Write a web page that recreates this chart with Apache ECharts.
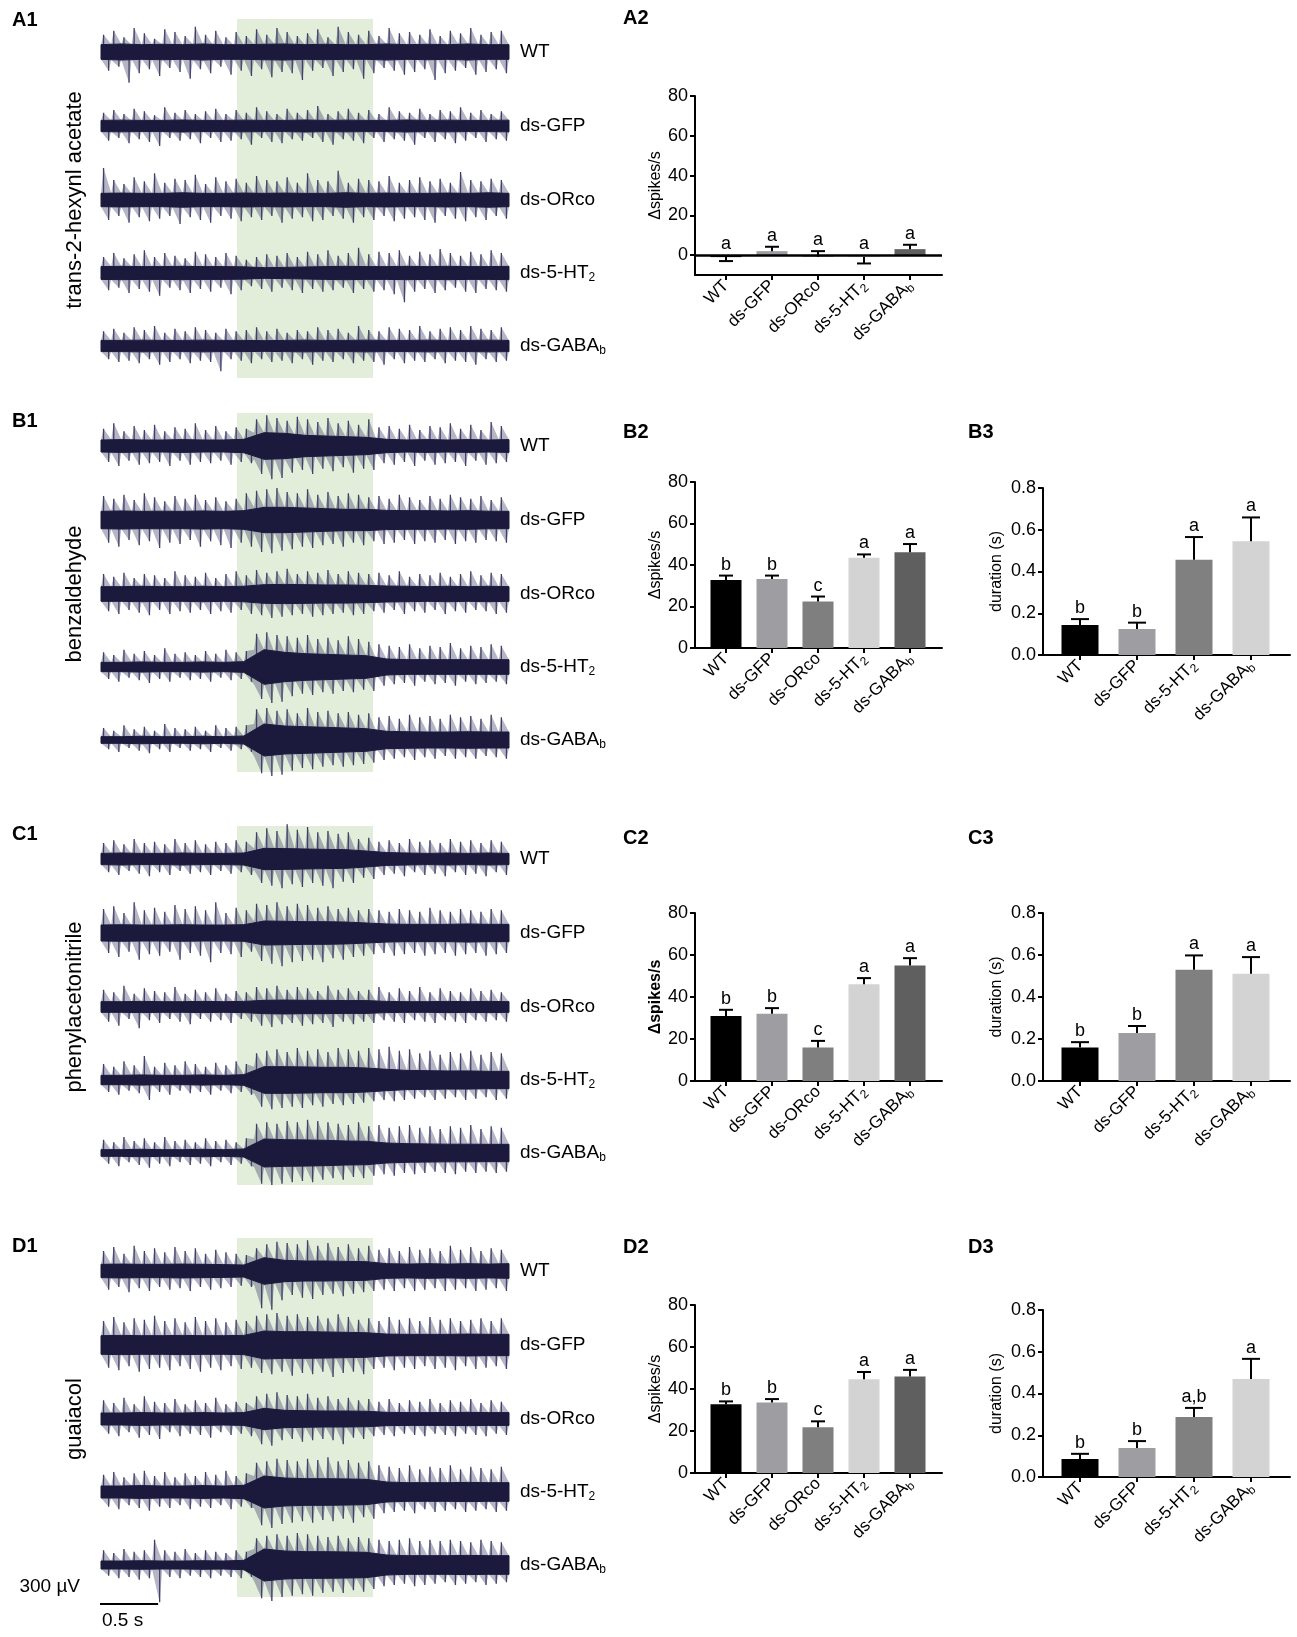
<!DOCTYPE html>
<html>
<head>
<meta charset="utf-8">
<title>Electroantennogram traces and responses</title>
<script src="https://cdn.jsdelivr.net/npm/echarts@6.0.0/dist/echarts.min.js"></script>
<style>
  html, body { margin: 0; padding: 0; background: #fff; }
  #main { width: 1297px; height: 1637px; }
</style>
</head>
<body>
<div id="main"></div>
<script>
// ---- trace data: per 0.075 s bin, peak upward / downward excursion (uV), core band half-width every 0.15 s (uV)
var A_WT_up = [130,160,110,180,140,100,170,150,120,190,130,160,110,150,120,170,130,180,150,120,
  140,170,110,190,150,130,160,120,180,140,150,130,170,120,160,140,180,130,150,160];
var A_WT_dn = [140,110,230,160,130,180,120,150,200,130,160,110,170,140,180,130,190,150,160,210,
  140,120,180,150,130,200,160,120,140,170,150,130,210,160,140,120,170,150,130,160];
var A_WT_core = [55,60,55,58,55,60,55,55,58,60,55,58,55,55,60,55,58,55,60,55,55];
var A_GFP_up = [100,120,90,130,110,80,140,100,120,90,110,130,90,120,100,140,110,90,130,100,
  120,150,90,110,130,100,120,90,140,110,100,130,90,120,110,140,100,120,90,110];
var A_GFP_dn = [110,90,130,100,120,150,90,110,100,130,90,120,110,100,140,90,120,130,100,110,
  90,120,140,100,110,130,90,120,100,110,140,90,120,100,130,110,90,120,100,110];
var A_GFP_core = [42,44,42,42,45,42,42,44,42,42,45,42,44,42,42,45,42,44,42,42,44];
var A_ORco_up = [240,150,120,170,140,200,130,160,150,190,120,170,140,160,130,180,150,140,170,130,
  200,150,140,220,130,160,150,140,180,130,150,170,140,160,130,210,150,140,160,150];
var A_ORco_dn = [150,120,170,130,160,140,120,180,130,150,170,120,140,160,130,150,120,170,140,130,
  160,150,120,140,170,130,150,120,160,140,130,150,170,120,140,160,130,150,120,140];
var A_ORco_core = [50,52,50,50,54,50,50,52,50,52,50,50,54,50,52,50,50,52,50,54,50];
var A_5HT_up = [120,150,110,140,170,120,150,130,110,160,140,120,150,130,100,120,140,130,150,120,
  160,140,170,130,150,190,140,160,150,170,130,160,140,180,150,130,160,140,170,150];
var A_5HT_dn = [130,110,150,120,140,170,110,130,150,120,140,110,160,130,100,120,140,110,130,150,
  120,140,130,110,150,120,140,130,160,220,140,120,150,130,110,140,150,120,130,140];
var A_5HT_core = [48,50,48,48,50,48,48,46,40,42,45,48,50,48,48,50,48,50,48,48,50];
var A_GABA_up = [110,130,100,140,120,150,100,130,110,140,120,100,130,110,120,140,110,130,100,120,
  110,140,120,130,100,150,120,110,140,130,120,150,110,130,140,120,150,130,120,140];
var A_GABA_dn = [100,120,110,130,100,140,120,100,130,110,120,190,100,110,130,100,120,110,130,100,
  140,110,120,100,130,110,120,140,100,130,110,120,100,130,110,120,140,100,120,110];
var A_GABA_core = [42,42,44,42,42,44,42,42,40,42,44,42,42,44,42,42,44,42,42,44,42];

var B_WT_up = [130,170,110,150,120,160,110,140,130,170,120,150,110,140,130,200,230,210,190,220,
  200,180,210,170,190,160,200,140,150,130,160,120,150,140,170,130,160,120,180,150];
var B_WT_dn = [120,150,110,140,130,120,150,110,140,120,130,110,140,120,130,210,250,240,200,180,
  210,170,190,160,200,170,180,130,140,120,150,110,140,130,120,150,110,140,130,120];
var B_WT_core = [45,48,45,45,48,45,45,50,100,95,80,75,70,65,50,45,48,45,48,45,48];
var B_GFP_up = [180,160,190,150,200,170,140,180,160,190,150,170,140,160,200,220,230,240,210,200,
  230,190,210,180,200,190,170,180,160,190,170,150,180,160,190,170,160,180,150,170];
var B_GFP_dn = [170,200,150,190,160,210,170,180,150,200,160,190,210,170,200,240,250,230,220,200,
  210,190,180,200,170,190,160,180,170,150,180,160,170,150,180,160,170,150,160,170];
var B_GFP_core = [65,68,65,66,65,68,65,70,95,95,90,85,80,80,72,70,70,68,70,66,65];
var B_ORco_up = [150,130,160,120,150,140,120,170,140,130,160,120,150,170,140,180,160,170,190,150,
  170,160,180,150,170,160,150,160,140,170,130,150,140,160,130,150,170,140,160,150];
var B_ORco_dn = [130,150,120,140,160,120,150,130,140,120,150,130,140,120,150,160,180,170,160,150,
  170,160,150,140,160,150,130,140,120,150,130,140,120,150,130,140,120,130,150,140];
var B_ORco_core = [55,55,58,55,55,58,55,58,70,72,70,68,68,65,60,58,55,58,55,58,55];
var B_5HT_up = [110,90,130,100,120,90,140,100,110,90,120,100,130,110,120,250,260,240,230,220,
  240,210,220,200,230,210,190,170,160,150,170,140,160,150,180,140,160,150,170,160];
var B_5HT_dn = [90,110,80,100,120,90,110,80,100,90,110,80,100,90,110,240,270,260,220,200,
  210,190,200,180,190,170,180,140,130,120,140,110,130,120,140,110,130,120,110,130];
var B_5HT_core = [35,35,38,35,35,38,35,40,130,110,100,95,90,85,60,55,55,55,55,55,55];
var B_GABA_up = [90,70,110,80,100,70,120,90,80,100,70,110,90,100,110,230,240,220,230,200,
  240,210,220,200,210,190,200,170,180,160,190,170,180,160,190,170,180,160,190,170];
var B_GABA_dn = [70,90,60,80,100,70,90,60,80,70,90,60,80,70,90,250,270,260,230,210,
  220,200,190,200,190,180,170,150,140,130,150,130,140,120,140,130,140,120,130,140];
var B_GABA_core = [25,25,28,25,25,28,25,30,120,105,100,95,90,85,65,62,60,60,62,60,60];

var C_WT_up = [120,140,110,150,120,130,110,150,120,140,110,130,120,140,130,200,230,210,260,220,
  240,200,210,190,200,150,160,130,140,120,150,130,140,120,150,130,140,120,140,130];
var C_WT_dn = [100,120,90,110,130,100,120,90,110,100,120,90,110,100,120,180,200,220,190,210,
  180,200,220,170,180,140,150,120,110,130,100,120,110,130,100,120,110,130,100,120];
var C_WT_core = [42,45,42,42,45,42,42,45,80,78,75,72,70,60,48,45,42,45,42,45,42];
var C_GFP_up = [180,200,150,230,170,190,160,210,180,200,170,230,150,190,170,220,210,230,200,220,
  210,190,200,180,190,170,180,170,160,180,170,160,190,170,160,180,170,160,180,170];
var C_GFP_dn = [150,180,140,200,160,170,140,200,150,170,220,150,160,180,140,210,230,250,220,210,
  200,220,190,200,180,170,160,150,170,160,150,170,160,150,170,160,150,170,160,150];
var C_GFP_core = [60,62,60,60,62,60,60,62,90,88,85,85,82,75,68,65,65,65,68,65,65];
var C_ORco_up = [130,110,160,100,140,120,110,150,100,130,110,140,100,120,110,150,140,160,130,150,
  140,120,160,130,140,120,130,150,110,140,120,150,110,140,120,110,140,120,130,110];
var C_ORco_dn = [110,140,90,160,100,120,90,110,130,90,110,100,120,90,110,140,150,130,120,140,
  130,120,150,110,130,110,120,100,110,120,100,110,120,100,110,120,100,110,100,110];
var C_ORco_core = [40,40,42,40,40,42,40,42,50,52,50,50,48,48,42,40,40,42,40,42,40];
var C_5HT_up = [120,100,140,110,180,100,130,110,140,120,100,130,110,140,120,200,220,230,210,240,
  220,230,210,240,230,220,240,230,250,220,230,200,220,190,210,200,220,190,210,200];
var C_5HT_dn = [90,110,80,100,150,90,110,80,100,90,110,80,100,90,110,200,220,210,200,210,
  190,200,180,190,180,170,160,150,160,150,140,130,150,140,130,150,140,130,150,140];
var C_5HT_core = [35,35,38,35,35,38,35,40,100,100,98,95,95,90,80,72,70,68,68,65,65];
var C_GABA_up = [100,80,120,90,110,80,120,90,100,80,110,90,100,80,110,220,230,220,240,230,
  250,240,230,220,210,230,200,210,190,200,210,190,200,180,200,190,210,180,200,190];
var C_GABA_dn = [80,100,70,90,110,80,100,70,90,80,100,70,90,80,100,230,240,230,220,210,
  220,200,190,200,180,190,170,160,170,150,160,150,140,150,160,140,150,140,150,140];
var C_GABA_core = [25,25,28,25,25,28,25,30,105,100,98,95,90,88,75,70,68,66,66,65,65];

var D_WT_up = [150,180,130,190,150,170,140,180,150,170,130,160,140,130,120,170,200,220,210,200,
  230,190,210,180,200,170,190,160,170,150,180,160,170,150,190,160,180,150,170,160];
var D_WT_dn = [140,120,160,130,150,120,140,130,150,120,140,130,120,110,120,280,290,220,180,200,
  210,180,170,190,170,160,150,140,150,130,150,140,130,150,140,130,150,140,130,150];
var D_WT_core = [50,52,50,50,52,50,48,45,100,80,75,75,72,70,55,52,55,52,55,52,55];
var D_GFP_up = [180,210,170,200,190,220,180,200,170,210,180,200,170,190,180,220,230,240,220,230,
  210,220,200,230,210,190,200,180,210,190,200,180,210,190,200,180,190,200,180,200];
var D_GFP_dn = [170,190,160,200,180,170,190,160,180,200,170,190,160,180,170,210,220,200,230,210,
  220,200,240,210,200,220,180,170,190,170,180,160,180,170,190,160,180,170,160,180];
var D_GFP_core = [70,72,70,70,72,70,70,72,105,100,100,98,95,92,82,80,80,80,82,80,80];
var D_ORco_up = [140,120,160,110,170,130,120,150,110,140,120,160,110,130,120,170,190,200,180,170,
  190,160,170,150,160,140,150,130,150,120,140,130,150,120,140,130,150,120,140,130];
var D_ORco_dn = [110,130,100,140,120,150,100,130,110,120,140,100,120,110,130,190,200,160,150,170,
  160,150,160,190,140,150,130,120,130,110,120,130,110,120,130,110,120,130,110,120];
var D_ORco_core = [45,45,48,45,45,48,45,48,80,65,62,60,60,58,50,48,48,48,50,48,48];
var D_5HT_up = [130,150,110,140,160,120,150,110,140,120,150,130,160,120,140,220,230,250,240,230,
  250,240,260,230,240,220,230,200,190,180,200,170,190,180,200,170,190,180,170,190];
var D_5HT_dn = [110,130,100,120,140,110,120,100,130,110,120,100,130,110,120,250,270,240,230,220,
  230,210,220,200,230,190,200,160,150,140,160,130,150,140,130,150,140,130,150,140];
var D_5HT_core = [45,45,48,45,45,48,45,50,120,105,100,100,98,95,75,70,70,70,72,70,70];
var D_GABA_up = [110,90,120,100,110,190,110,100,120,90,110,100,90,110,100,200,220,230,220,240,
  230,220,210,220,200,210,200,190,180,190,200,180,190,180,190,180,170,190,180,170];
var D_GABA_dn = [80,100,90,110,100,280,90,100,80,90,100,80,90,100,90,250,270,240,230,220,
  230,210,200,210,190,200,180,160,150,140,160,150,140,130,150,140,130,150,140,130];
var D_GABA_core = [30,30,32,30,30,32,30,35,120,105,100,100,98,95,75,70,70,70,72,70,70];

var traceNames = ['WT', 'ds-GFP', 'ds-ORco', 'ds-5-HT{s|2}', 'ds-GABA{s|b}'];
var odorNames = ['trans-2-hexynl acetate', 'benzaldehyde', 'phenylacetonitrile', 'guaiacol'];
var stimOn = 1.0, stimOff = 2.0, traceLen = 3.0;
var binDt = 0.075, coreDt = 0.15;
var scaleBarT = 0.5, scaleBarUV = 300;

// ---- bar data
var names5 = ['WT', 'ds-GFP', 'ds-ORco', 'ds-5-HT{s|2}', 'ds-GABA{s|b}'];
var names4 = ['WT', 'ds-GFP', 'ds-5-HT{s|2}', 'ds-GABA{s|b}'];
var A2_mean = [-1, 2, -0.8, -1, 3];
var A2_cap = [-3, 4.2, 2, -4.2, 5.2];
var A2_letters = ['a', 'a', 'a', 'a', 'a'];
var B2_mean = [32.8, 33.3, 22.4, 43.5, 46.1];
var B2_cap = [34.9, 34.9, 24.8, 45.1, 50.1];
var B2_letters = ['b', 'b', 'c', 'a', 'a'];
var B3_mean = [0.144, 0.125, 0.456, 0.545];
var B3_cap = [0.172, 0.155, 0.565, 0.659];
var B3_letters = ['b', 'b', 'a', 'a'];
var C2_mean = [31.0, 32.0, 15.9, 46.1, 55.0];
var C2_cap = [33.9, 34.7, 19.1, 49.0, 58.5];
var C2_letters = ['b', 'b', 'c', 'a', 'a'];
var C3_mean = [0.159, 0.228, 0.530, 0.511];
var C3_cap = [0.185, 0.262, 0.598, 0.590];
var C3_letters = ['b', 'b', 'a', 'a'];
var D2_mean = [32.7, 33.6, 21.8, 44.6, 45.9];
var D2_cap = [34.1, 35.2, 24.6, 48.1, 49.1];
var D2_letters = ['b', 'b', 'c', 'a', 'a'];
var D3_mean = [0.086, 0.139, 0.287, 0.470];
var D3_cap = [0.111, 0.172, 0.331, 0.566];
var D3_letters = ['b', 'b', 'a,b', 'a'];
var spikeTicks = [0, 20, 40, 60, 80];
var durTicks = [0, 0.2, 0.4, 0.6, 0.8];
var colors5 = ['#000000', '#9d9da2', '#7f7f7f', '#d3d3d3', '#5f5f5f'];
var colors4 = ['#000000', '#9d9da2', '#808080', '#d3d3d3'];

// ---- layout
var FONT = 'Liberation Sans';
var rowTops = [19, 413, 826, 1238];
var rowH = 359;
var uvPerPx = 7.5;
var traceOffsetPx = [33, 107, 181, 254, 327];
var traceCenters = traceOffsetPx.map(function (p) { return p * uvPerPx; });
var subRich = { s: { fontSize: 12, padding: [9, 0, 0, 0] } };

var chartDom = document.getElementById('main');
var myChart = echarts.init(chartDom);
var option;

var rows = [
  [[A_WT_up, A_WT_dn, A_WT_core], [A_GFP_up, A_GFP_dn, A_GFP_core], [A_ORco_up, A_ORco_dn, A_ORco_core],
   [A_5HT_up, A_5HT_dn, A_5HT_core], [A_GABA_up, A_GABA_dn, A_GABA_core]],
  [[B_WT_up, B_WT_dn, B_WT_core], [B_GFP_up, B_GFP_dn, B_GFP_core], [B_ORco_up, B_ORco_dn, B_ORco_core],
   [B_5HT_up, B_5HT_dn, B_5HT_core], [B_GABA_up, B_GABA_dn, B_GABA_core]],
  [[C_WT_up, C_WT_dn, C_WT_core], [C_GFP_up, C_GFP_dn, C_GFP_core], [C_ORco_up, C_ORco_dn, C_ORco_core],
   [C_5HT_up, C_5HT_dn, C_5HT_core], [C_GABA_up, C_GABA_dn, C_GABA_core]],
  [[D_WT_up, D_WT_dn, D_WT_core], [D_GFP_up, D_GFP_dn, D_GFP_core], [D_ORco_up, D_ORco_dn, D_ORco_core],
   [D_5HT_up, D_5HT_dn, D_5HT_core], [D_GABA_up, D_GABA_dn, D_GABA_core]]
];

var grids = [], xAxes = [], yAxes = [], series = [], graphics = [];

function txt(x, y, s, style, extra) {
  var el = {
    type: 'text', x: x, y: y, silent: true,
    style: Object.assign({ text: s, fill: '#000', fontFamily: FONT, fontSize: 19, align: 'left', verticalAlign: 'middle', rich: subRich }, style || {})
  };
  return Object.assign(el, extra || {});
}

// core half-width at time t (nearest stored sample)
function coreAt(core, t) {
  return core[Math.min(core.length - 1, Math.round(t / coreDt))];
}

// trace rows
rows.forEach(function (row, r) {
  var gi = grids.length;
  grids.push({ left: 101, top: rowTops[r], width: 408, height: rowH });
  xAxes.push({ type: 'value', gridIndex: gi, min: 0, max: traceLen, show: false });
  yAxes.push({ type: 'value', gridIndex: gi, min: 0, max: rowH * uvPerPx, inverse: true, show: false });

  // odour window
  series.push({
    type: 'custom', xAxisIndex: gi, yAxisIndex: gi, silent: true, z: 1,
    data: [[stimOn, stimOff]],
    renderItem: function (params, api) {
      var p1 = api.coord([api.value(0), 0]);
      var p2 = api.coord([api.value(1), rowH * uvPerPx]);
      return { type: 'rect', shape: { x: p1[0], y: p1[1], width: p2[0] - p1[0], height: p2[1] - p1[1] }, style: { fill: '#e2eed9' } };
    }
  });

  // recordings: spike envelope, spike strokes, dense core band (dark)
  series.push({
    type: 'custom', xAxisIndex: gi, yAxisIndex: gi, silent: true, z: 2,
    data: row.map(function (t, k) { return [k, 0]; }),
    renderItem: function (params, api) {
      var k = params.dataIndex;
      var up = row[k][0], dn = row[k][1], core = row[k][2];
      var c = traceCenters[k];
      var spikes = [], top = [], bot = [];
      top.push(api.coord([0, c - core[0]]));
      bot.push(api.coord([0, c + core[0]]));
      for (var i = 0; i < up.length; i++) {
        var tu = i * binDt + binDt * 0.25, td = i * binDt + binDt * 0.75, te = (i + 1) * binDt;
        spikes.push(api.coord([tu, c]), api.coord([tu, c - up[i]]), api.coord([tu, c]));
        spikes.push(api.coord([td, c]), api.coord([td, c + dn[i]]), api.coord([td, c]));
        top.push(api.coord([tu, c - up[i]]), api.coord([te, c - coreAt(core, te)]));
        bot.push(api.coord([td, c + dn[i]]), api.coord([te, c + coreAt(core, te)]));
      }
      var env = top.concat(bot.reverse());
      var band = [];
      for (var j = 0; j < core.length; j++) band.push(api.coord([j * coreDt, c - core[j]]));
      for (var j2 = core.length - 1; j2 >= 0; j2--) band.push(api.coord([j2 * coreDt, c + core[j2]]));
      return {
        type: 'group',
        children: [
          { type: 'polygon', shape: { points: env }, style: { fill: 'rgba(70,70,110,0.4)' } },
          { type: 'polyline', shape: { points: spikes }, style: { stroke: '#3f3f68', lineWidth: 1.3, fill: null } },
          { type: 'polygon', shape: { points: band }, style: { fill: '#1b1a3d', stroke: '#1b1a3d', lineWidth: 1 } }
        ]
      };
    }
  });

  var rowTop = rowTops[r];
  traceNames.forEach(function (n, k) {
    graphics.push(txt(520, rowTop + traceOffsetPx[k], n));
  });
  graphics.push(txt(75, rowTop + traceOffsetPx[2], odorNames[r], { fontSize: 22, align: 'center' }, { rotation: Math.PI / 2 }));
  graphics.push(txt(12, rowTop + (r === 0 ? 1 : 8), ['A1', 'B1', 'C1', 'D1'][r], { fontSize: 20, fontWeight: 'bold' }));
});

// scale bar on the last trace row
var sbT0 = -0.08, sbV0 = 2745;
series.push({
  type: 'line', xAxisIndex: 3, yAxisIndex: 3, clip: false, silent: true, symbol: 'none', z: 3,
  lineStyle: { color: '#000', width: 2 },
  data: [[sbT0, sbV0 - scaleBarUV], [sbT0, sbV0], [sbT0 + scaleBarT, sbV0]]
});
graphics.push(txt(80, 1587, '300 µV', { align: 'right' }));
graphics.push(txt(102, 1621, '0.5 s'));

// bar panels
var panels = [
  { label: 'A2', lx: 623, ly: 18, left: 695, top: 96, height: 179, names: names5, mean: A2_mean, cap: A2_cap, letters: A2_letters, colors: colors5, yMin: -10, yMax: 80, ticks: spikeTicks, yName: 'Δspikes/s', zero: true },
  { label: 'B2', lx: 623, ly: 432, left: 695, top: 482, height: 166, names: names5, mean: B2_mean, cap: B2_cap, letters: B2_letters, colors: colors5, yMin: 0, yMax: 80, ticks: spikeTicks, yName: 'Δspikes/s' },
  { label: 'B3', lx: 968, ly: 432, left: 1043, top: 488, height: 167, names: names4, mean: B3_mean, cap: B3_cap, letters: B3_letters, colors: colors4, yMin: 0, yMax: 0.8, ticks: durTicks, yName: 'duration (s)' },
  { label: 'C2', lx: 623, ly: 838, left: 695, top: 913, height: 168, names: names5, mean: C2_mean, cap: C2_cap, letters: C2_letters, colors: colors5, yMin: 0, yMax: 80, ticks: spikeTicks, yName: 'Δspikes/s', bold: true },
  { label: 'C3', lx: 968, ly: 838, left: 1043, top: 913, height: 168, names: names4, mean: C3_mean, cap: C3_cap, letters: C3_letters, colors: colors4, yMin: 0, yMax: 0.8, ticks: durTicks, yName: 'duration (s)' },
  { label: 'D2', lx: 623, ly: 1247, left: 695, top: 1305, height: 168, names: names5, mean: D2_mean, cap: D2_cap, letters: D2_letters, colors: colors5, yMin: 0, yMax: 80, ticks: spikeTicks, yName: 'Δspikes/s' },
  { label: 'D3', lx: 968, ly: 1247, left: 1043, top: 1310, height: 167, names: names4, mean: D3_mean, cap: D3_cap, letters: D3_letters, colors: colors4, yMin: 0, yMax: 0.8, ticks: durTicks, yName: 'duration (s)' }
];

panels.forEach(function (p) {
  var gi = grids.length;
  var five = p.names.length === 5;
  var step = five ? 46 : 57;        // px between bar centres
  var firstPx = five ? 31 : 37;     // px from y axis to first bar centre
  var width = 247;
  var isDur = p.ticks === durTicks;
  grids.push({ left: p.left, top: p.top, width: width, height: p.height });
  var idx = p.names.map(function (n, i) { return i; });
  xAxes.push({
    type: 'value', gridIndex: gi,
    min: -firstPx / step, max: (width - firstPx) / step,
    axisLine: { show: true, onZero: false, lineStyle: { color: '#000', width: 2 } },
    axisTick: { show: true, length: 5, lineStyle: { color: '#000', width: 2 }, customValues: idx },
    axisLabel: {
      show: true, customValues: idx, rotate: 45, margin: 8, color: '#000', fontFamily: FONT, fontSize: 17,
      formatter: function (v) { return p.names[Math.round(v)]; },
      rich: subRich
    },
    splitLine: { show: false }
  });
  yAxes.push({
    type: 'value', gridIndex: gi, min: p.yMin, max: p.yMax,
    name: p.yName, nameLocation: 'middle', nameGap: isDur ? 38 : 30,
    nameTextStyle: { fontFamily: FONT, fontSize: 16, color: '#000', fontWeight: p.bold ? 'bold' : 'normal' },
    axisLine: { show: true, onZero: false, lineStyle: { color: '#000', width: 2 } },
    axisTick: { show: true, length: 5, lineStyle: { color: '#000', width: 2 }, customValues: p.ticks },
    axisLabel: {
      show: true, customValues: p.ticks, margin: 7, color: '#000', fontFamily: FONT, fontSize: 18,
      formatter: function (v) { return isDur ? v.toFixed(1) : String(v); }
    },
    splitLine: { show: false }
  });

  var bar = {
    type: 'bar', xAxisIndex: gi, yAxisIndex: gi, silent: true, barWidth: five ? 31 : 37, z: 2,
    data: p.mean.map(function (m, i) { return { value: [i, m], itemStyle: { color: p.colors[i] } }; })
  };
  if (p.zero) {
    bar.markLine = {
      symbol: 'none', silent: true, label: { show: false }, animation: false,
      lineStyle: { color: '#000', width: 2.5, type: 'solid' },
      data: [{ yAxis: 0 }]
    };
  }
  series.push(bar);

  var capHalf = five ? 7 : 9;
  series.push({
    type: 'custom', xAxisIndex: gi, yAxisIndex: gi, silent: true, z: 4,
    data: p.mean.map(function (m, i) { return [i, m, p.cap[i]]; }),
    renderItem: function (params, api) {
      var x = api.value(0), m = api.value(1), c = api.value(2);
      var pm = api.coord([x, m]), pc = api.coord([x, c]), p0 = api.coord([x, 0]);
      var topY = Math.min(pm[1], pc[1], p0[1]);
      return {
        type: 'group',
        children: [
          { type: 'line', shape: { x1: pm[0], y1: pm[1], x2: pc[0], y2: pc[1] }, style: { stroke: '#000', lineWidth: 2 } },
          { type: 'line', shape: { x1: pc[0] - capHalf, y1: pc[1], x2: pc[0] + capHalf, y2: pc[1] }, style: { stroke: '#000', lineWidth: 2 } },
          { type: 'text', x: pc[0], y: topY - 2, style: { text: p.letters[params.dataIndex], fill: '#000', fontFamily: FONT, fontSize: 18, align: 'center', verticalAlign: 'bottom' } }
        ]
      };
    }
  });

  graphics.push(txt(p.lx, p.ly, p.label, { fontSize: 20, fontWeight: 'bold' }));
});

option = {
  animation: false,
  backgroundColor: '#ffffff',
  grid: grids,
  xAxis: xAxes,
  yAxis: yAxes,
  series: series,
  graphic: { elements: graphics }
};

option && myChart.setOption(option);
</script>
</body>
</html>
